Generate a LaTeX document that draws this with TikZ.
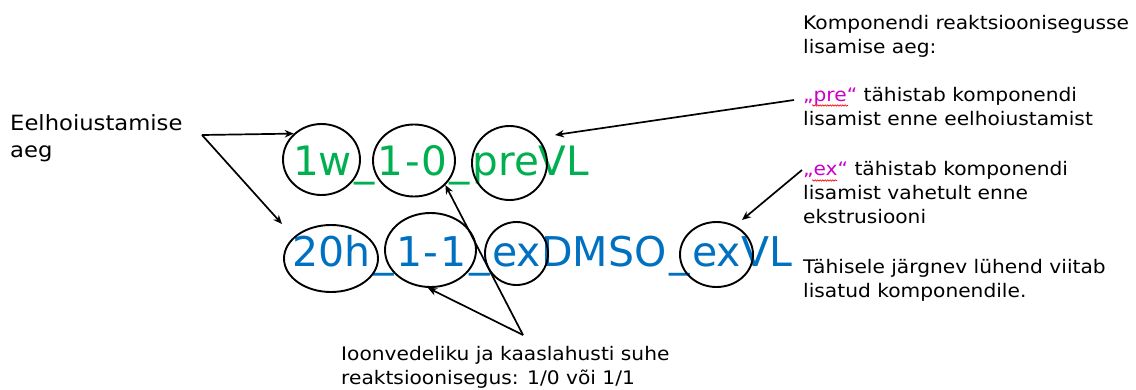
\documentclass[tikz,border=0pt]{standalone}
\usepackage{fontspec}
\setmainfont{DejaVu Sans}[FakeStretch=1.08]
\newfontfamily\bigfont{DejaVu Sans}
\usetikzlibrary{shapes.geometric,arrows.meta,decorations.pathmorphing}
\definecolor{tgreen}{HTML}{00B050}
\definecolor{tblue}{HTML}{0070C0}
\definecolor{tmag}{HTML}{CC00CC}
\newcommand{\vus}{\makebox[0.636em][c]{\_}}
\newcommand{\vhy}{\makebox[0.431em][c]{-}}
\tikzset{
  ell/.style={draw=black, ellipse, line width=1.9pt, inner sep=0pt},
  arr/.style={-{Stealth[length=9pt,width=7.5pt]}, line width=1.7pt, black},
  big/.style={anchor=base west, inner sep=0pt},
  note/.style={anchor=base west, inner sep=0pt, align=left, font=\fontsize{18.7}{23.7}\selectfont},
  squig/.style={red, line width=0.6pt, decorate, decoration={snake, amplitude=0.7pt, segment length=2.5pt}}
}
\begin{document}
\begin{tikzpicture}[x=1pt,y=-1pt]
\useasboundingbox (0,0) rectangle (1136,389);
% texts (base anchor = baseline of the last line)
\node[anchor=base west, inner sep=0pt, align=left, font=\fontsize{21}{27}\selectfont] (eel) at (10,157) {Eelhoiustamise\\aeg};
\node[big, text=tgreen, font=\bigfont\fontsize{40.5}{44}\selectfont] (gline) at (293,175) {1w\vus1\vhy0\vus preVL};
\node[big, text=tblue, font=\bigfont\fontsize{41}{44}\selectfont] (bline) at (292,266) {20h\vus1\vhy1\vus exDMSO\vus exVL};
\node[note] (t1) at (803,53) {Komponendi reaktsioonisegusse\\lisamise aeg:};
\node[note] (t2) at (803,125) {{\color{tmag}„pre“} tähistab komponendi\\lisamist enne eelhoiustamist};
\node[note] (t3) at (803,223) {{\color{tmag}„ex“} tähistab komponendi\\lisamist vahetult enne\\ekstrusiooni};
\node[note] (t4) at (803,297) {Tähisele järgnev lühend viitab\\lisatud komponendile.};
\node[note] (t5) at (341,384) {Ioonvedeliku ja kaaslahusti suhe\\reaktsioonisegus: 1/0 või 1/1};
% spell-check squiggles
\draw[squig] (812,105.5) -- (848,105.5);
\draw[squig] (812,180.5) -- (837,180.5);
% ellipses
\node[ell, minimum width=77pt, minimum height=71pt] (e1) at (321.5,159.5) {};
\node[ell, minimum width=82pt, minimum height=72pt] (e2) at (414,160.5) {};
\node[ell, minimum width=75pt, minimum height=74pt] (e3) at (509.5,163) {};
\node[ell, minimum width=94pt, minimum height=67pt] (eA) at (331,258.5) {};
\node[ell, minimum width=91pt, minimum height=74pt] (eB) at (430.5,250) {};
\node[ell, minimum width=63pt, minimum height=63pt] (eC) at (516.5,253.5) {};
\node[ell, minimum width=73pt, minimum height=65pt] (eD) at (716.5,254.5) {};
% connector ends
\coordinate (cEel) at (202,135);
\coordinate (tA) at (282,224);
\coordinate (cPre) at (794,100);
\coordinate (tPre) at (555,135);
\coordinate (cEx) at (802,170);
\coordinate (tEx) at (742,220);
\coordinate (cRat) at (523,335);
% connectors
\draw[arr] (cEel) -- (e1.137);
\draw[arr] (cEel) -- (tA);
\draw[arr] (cPre) -- (tPre);
\draw[arr] (cEx) -- (tEx);
\draw[arr] (cRat) -- (eB.266);
\draw[arr] (cRat) -- (e2.322);
\end{tikzpicture}
\end{document}
